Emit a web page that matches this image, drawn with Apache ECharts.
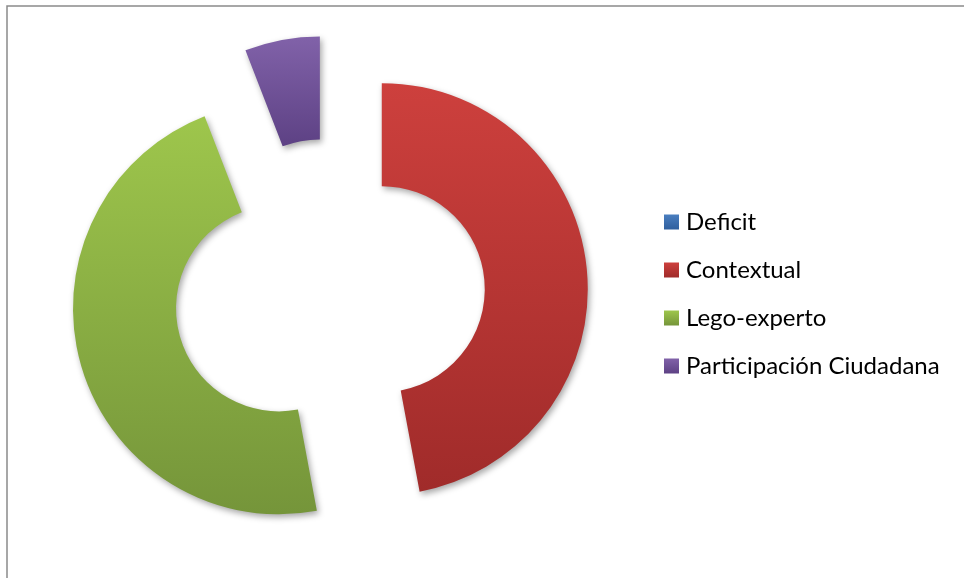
<!DOCTYPE html>
<html>
<head>
<meta charset="utf-8">
<title>Doughnut</title>
<script src="https://cdn.jsdelivr.net/npm/echarts@6/dist/echarts.min.js"></script>
<style>
  body { margin: 0; background: #ffffff; }
  #chart { width: 964px; height: 578px; }
</style>
</head>
<body>
<div id="chart"></div>
<script>
// datos
const categories = ['Deficit', 'Contextual', 'Lego-experto', 'Participación Ciudadana']
const values = [0, 8, 8, 1]

// colores (arriba / abajo del degradado)
const topColors = ['#4a7ebf', '#cd403d', '#9ec64c', '#8162a9']
const bottomColors = ['#2f5f9e', '#a02b2a', '#75953a', '#5d4184']

const chart = echarts.init(document.getElementById('chart'))

const pieData = categories.map((name, i) => ({
  name: name,
  value: values[i],
  selected: values[i] > 0,
  itemStyle: {
    color: {
      type: 'linear',
      x: 0, y: 0, x2: 0, y2: 1,
      colorStops: [
        { offset: 0, color: topColors[i] },
        { offset: 1, color: bottomColors[i] }
      ]
    }
  }
}))

chart.setOption({
  animation: false,
  // marco del grafico
  graphic: [
    {
      type: 'rect',
      shape: { x: 7, y: 6, width: 1000, height: 1000 },
      style: { fill: 'none', stroke: '#8a8a8a', lineWidth: 1.5 },
      silent: true
    }
  ],
  legend: {
    orient: 'vertical',
    left: 659,
    top: 205,
    padding: 5,
    itemWidth: 15,
    itemHeight: 15,
    itemGap: 24,
    icon: 'rect',
    itemStyle: { shadowBlur: 0, shadowOffsetX: 0, shadowOffsetY: 0 },
    textStyle: {
      fontFamily: 'Lato',
      fontSize: 24,
      lineHeight: 24,
      color: '#000000',
      padding: [0, 0, 0, 2]
    },
    selectedMode: false
  },
  series: [
    {
      type: 'pie',
      center: [329.5, 294],
      radius: [103, 206],
      startAngle: 90,
      clockwise: true,
      selectedMode: 'multiple',
      selectedOffset: 52.5,
      avoidLabelOverlap: false,
      label: { show: false },
      labelLine: { show: false },
      itemStyle: {
        shadowBlur: 6,
        shadowOffsetX: 2,
        shadowOffsetY: 3,
        shadowColor: 'rgba(0, 0, 0, 0.35)'
      },
      emphasis: { disabled: true },
      data: pieData
    }
  ]
})
</script>
</body>
</html>
